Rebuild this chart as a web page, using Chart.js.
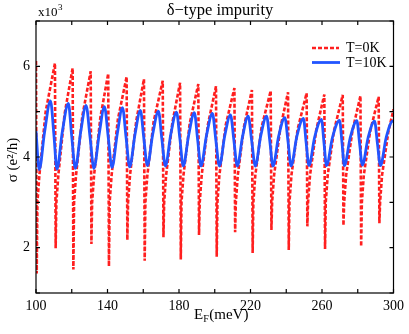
<!DOCTYPE html>
<html><head><meta charset="utf-8">
<script src="https://cdn.jsdelivr.net/npm/chart.js@4/dist/chart.umd.min.js"></script>
<style>html,body{margin:0;padding:0;background:#fff;}canvas{display:block;}</style>
</head><body>
<canvas id="c" width="409" height="334"></canvas>
<script>
// T=0K  (energy in meV, conductance in units of 10^3 e^2/h)
const t0E = [100.0,
 100.4, 100.8, 101.9, 105.4, 110.6,
 111.0, 111.4, 112.5, 116.0, 120.5,
 120.9, 121.3, 122.4, 125.9, 130.6,
 131.0, 131.4, 132.5, 136.0, 140.4,
 140.8, 141.2, 142.3, 145.8, 150.7,
 151.1, 151.5, 152.6, 156.1, 160.4,
 160.8, 161.2, 162.3, 165.8, 170.9,
 171.3, 171.7, 172.8, 176.3, 180.6,
 181.0, 181.4, 182.5, 186.0, 190.8,
 191.2, 191.6, 192.7, 196.2, 200.7,
 201.1, 201.5, 202.6, 206.1, 211.0,
 211.4, 211.8, 212.9, 216.4, 220.8,
 221.2, 221.6, 222.7, 226.2, 231.3,
 231.7, 232.1, 233.2, 236.7, 241.0,
 241.4, 241.8, 242.9, 246.4, 251.4,
 251.8, 252.2, 253.3, 256.8, 261.3,
 261.7, 262.1, 263.2, 266.7, 271.6,
 272.0, 272.4, 273.5, 277.0, 281.5,
 281.9, 282.3, 283.4, 286.9, 291.7,
 292.1, 292.5, 293.6, 297.1, 300.0];
const t0S = [6.12,
 1.43, 3.0, 3.6, 5.0, 6.07,
 1.99, 3.0, 3.6, 4.95, 5.96,
 1.52, 3.0, 3.6, 4.9, 5.89,
 2.08, 3.0, 3.6, 4.87, 5.84,
 1.59, 3.0, 3.6, 4.83, 5.77,
 2.17, 3.0, 3.6, 4.8, 5.72,
 1.71, 3.0, 3.6, 4.78, 5.68,
 2.23, 3.0, 3.6, 4.76, 5.64,
 1.74, 3.0, 3.6, 4.74, 5.61,
 2.28, 3.0, 3.6, 4.72, 5.56,
 1.80, 3.0, 3.6, 4.7, 5.52,
 2.34, 3.0, 3.6, 4.68, 5.48,
 1.88, 3.0, 3.6, 4.66, 5.46,
 2.39, 3.0, 3.6, 4.64, 5.43,
 1.95, 3.0, 3.6, 4.62, 5.41,
 2.47, 3.0, 3.6, 4.6, 5.38,
 1.97, 3.0, 3.6, 4.58, 5.37,
 2.49, 3.0, 3.6, 4.57, 5.35,
 2.03, 3.0, 3.6, 4.56, 5.33,
 2.54, 3.0, 3.6, 4.55, 5.05];

// T=10K
const t10E = [100.0, 101.8,
 104.8, 108.1, 110.0, 111.7,
 114.7, 118.1, 120.0, 122.0,
 125.0, 128.0, 130.2, 132.4,
 135.4, 138.3, 140.4, 142.5,
 145.5, 148.4, 150.4, 152.4,
 155.4, 158.4, 160.3, 162.3,
 165.3, 168.5, 170.4, 172.4,
 175.4, 178.6, 180.5, 182.4,
 185.4, 188.6, 190.4, 192.3,
 195.4, 198.7, 200.6, 202.6,
 205.6, 208.8, 210.7, 212.6,
 215.6, 218.7, 220.7, 222.7,
 225.7, 229.0, 230.8, 232.6,
 235.7, 239.2, 241.0, 242.7,
 245.9, 249.6, 251.1, 252.7,
 255.9, 259.7, 261.1, 262.5,
 265.9, 269.8, 271.2, 272.5,
 275.8, 279.5, 281.0, 282.6,
 285.8, 289.4, 291.0, 292.7,
 295.9, 299.6, 300.0];
const t10S = [4.57, 3.72,
 4.55, 5.24, 4.5, 3.73,
 4.55, 5.18, 4.45, 3.75,
 4.55, 5.14, 4.45, 3.75,
 4.52, 5.11, 4.44, 3.77,
 4.52, 5.09, 4.43, 3.78,
 4.5, 5.03, 4.42, 3.81,
 4.5, 5.01, 4.4, 3.80,
 4.5, 4.99, 4.4, 3.80,
 4.48, 4.98, 4.39, 3.80,
 4.48, 4.96, 4.38, 3.80,
 4.47, 4.93, 4.37, 3.80,
 4.46, 4.90, 4.35, 3.80,
 4.46, 4.90, 4.35, 3.80,
 4.45, 4.87, 4.34, 3.80,
 4.45, 4.85, 4.33, 3.81,
 4.44, 4.83, 4.32, 3.81,
 4.44, 4.81, 4.31, 3.81,
 4.43, 4.80, 4.31, 3.82,
 4.43, 4.79, 4.3, 3.81,
 4.43, 4.79, 4.78];

const xLabels = [100, 140, 180, 220, 260, 300];
const yLabels = [2, 4, 6];
const seriesNames = ['T=0K', 'T=10K'];

const SERIF = "'Liberation Serif', 'DejaVu Serif', serif";
const RED = '#ff1f1f', BLUE = '#2255ff';
const pts = (xs, ys) => xs.map((x, i) => ({x: x, y: ys[i]}));

const deco = {
  id: 'deco',
  afterDraw(chart) {
    const ctx = chart.ctx, a = chart.chartArea, xs = chart.scales.x, ys = chart.scales.y;
    ctx.save();
    ctx.strokeStyle = '#000'; ctx.lineWidth = 1.2;
    ctx.strokeRect(a.left, a.top, a.right - a.left, a.bottom - a.top);
    ctx.beginPath();
    xs.ticks.forEach(t => {
      const p = xs.getPixelForValue(t.value);
      ctx.moveTo(p, a.bottom); ctx.lineTo(p, a.bottom - 4);
      ctx.moveTo(p, a.top); ctx.lineTo(p, a.top + 4);
    });
    ys.ticks.forEach(t => {
      const p = ys.getPixelForValue(t.value);
      ctx.moveTo(a.left, p); ctx.lineTo(a.left + 4, p);
      ctx.moveTo(a.right, p); ctx.lineTo(a.right - 4, p);
    });
    ctx.stroke();

    ctx.fillStyle = '#000';
    ctx.textBaseline = 'alphabetic';
    // title
    ctx.font = '16.5px ' + SERIF; ctx.textAlign = 'center';
    ctx.fillText('\u03b4\u2212type impurity', 220, 15);
    // multiplier
    ctx.textAlign = 'left';
    ctx.font = '13px ' + SERIF;
    ctx.fillText('x10', 38, 16);
    const w10 = ctx.measureText('x10').width;
    ctx.font = '9px ' + SERIF;
    ctx.fillText('3', 38 + w10 + 0.5, 10);

    // x axis title E_F(meV)
    ctx.font = '15px ' + SERIF;
    const wE = ctx.measureText('E').width;
    const wM = ctx.measureText('(meV)').width;
    ctx.font = '10px ' + SERIF;
    const wF = ctx.measureText('F').width;
    let x0 = 221 - (wE + wF + wM) / 2;
    ctx.font = '15px ' + SERIF; ctx.fillText('E', x0, 319);
    ctx.font = '10px ' + SERIF; ctx.fillText('F', x0 + wE, 322);
    ctx.font = '15px ' + SERIF; ctx.fillText('(meV)', x0 + wE + wF + 0.5, 319);

    // y axis title
    ctx.save();
    ctx.translate(17, 160); ctx.rotate(-Math.PI / 2);
    ctx.textAlign = 'center'; ctx.font = '15px ' + SERIF;
    ctx.fillText('\u03c3 (e\u00b2/h)', 0, 0);
    ctx.restore();

    // legend
    ctx.lineWidth = 2.6; ctx.strokeStyle = RED; ctx.setLineDash([4, 2]);
    ctx.beginPath(); ctx.moveTo(312, 48); ctx.lineTo(339, 48); ctx.stroke();
    ctx.setLineDash([]); ctx.lineWidth = 2.8; ctx.strokeStyle = BLUE;
    ctx.beginPath(); ctx.moveTo(312, 62.5); ctx.lineTo(340, 62.5); ctx.stroke();
    ctx.fillStyle = '#000'; ctx.font = '14px ' + SERIF; ctx.textAlign = 'left';
    ctx.fillText(seriesNames[0], 346, 52);
    ctx.fillText(seriesNames[1], 346, 67);
    ctx.restore();
  }
};

new Chart(document.getElementById('c'), {
  type: 'line',
  data: {
    datasets: [
      {label: seriesNames[0], data: pts(t0E, t0S), borderColor: RED, borderWidth: 2.6,
       borderDash: [4, 2], pointRadius: 0, tension: 0, order: 1, borderJoinStyle: 'bevel', fill: false},
      {label: seriesNames[1], data: pts(t10E, t10S), borderColor: BLUE, borderWidth: 2.8,
       pointRadius: 0, cubicInterpolationMode: 'monotone', order: 0, fill: false}
    ]
  },
  options: {
    responsive: false, animation: false, devicePixelRatio: 1,
    layout: {padding: {top: 21, right: 9, left: 0, bottom: 0}},
    plugins: {legend: {display: false}, title: {display: false}, tooltip: {enabled: false}},
    scales: {
      x: {
        type: 'linear', min: 100, max: 300,
        afterFit(s) { s.height = 41; },
        grid: {display: false, drawTicks: false}, border: {display: false},
        ticks: {stepSize: 20, autoSkip: false, maxRotation: 0, padding: 5, color: '#000',
          font: {family: SERIF, size: 14},
          callback: v => xLabels.includes(v) ? String(v) : ''}
      },
      y: {
        type: 'linear', min: 1, max: 7,
        afterFit(s) { s.width = 36; },
        grid: {display: false, drawTicks: false}, border: {display: false},
        ticks: {stepSize: 1, autoSkip: false, padding: 6, color: '#000',
          font: {family: SERIF, size: 14},
          callback: v => yLabels.includes(v) ? String(v) : ''}
      }
    }
  },
  plugins: [deco]
});
</script>
</body></html>
